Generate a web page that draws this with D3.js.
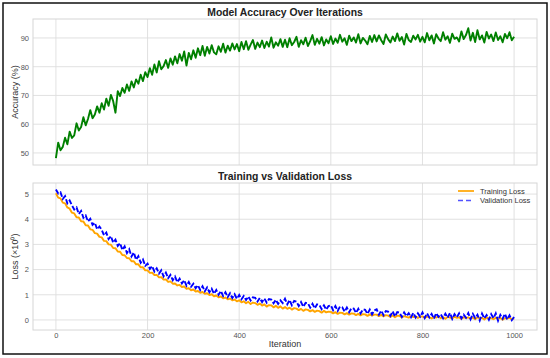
<!DOCTYPE html>
<html>
<head>
<meta charset="utf-8">
<script src="https://cdn.jsdelivr.net/npm/d3@7/dist/d3.min.js"></script>
<style>
  html, body { margin: 0; padding: 0; background: #fff; }
  svg { display: block; font-family: "Liberation Sans", Arial, sans-serif; }
</style>
</head>
<body>
<svg id="chart" width="550" height="358"></svg>
<script>
const STEP = 5;
const xTicks = [0, 200, 400, 600, 800, 1000];
const accTicks = [50, 60, 70, 80, 90];
const lossTicks = [0, 1, 2, 3, 4, 5];

const accuracy = [
  48.2, 53.6, 50.9, 52.1, 55.3, 53.0, 57.4, 55.2, 56.1, 60.3, 57.8, 59.0, 62.4, 59.6, 61.8, 64.9, 62.1, 63.4, 66.2, 64.0,
  67.3, 65.1, 68.9, 66.4, 70.2, 68.0, 64.0, 71.5, 69.8, 72.6, 70.9, 73.8, 71.6, 74.9, 72.8, 75.6, 74.1, 77.2, 75.0, 78.1,
  76.4, 79.5, 77.2, 80.8, 78.0, 81.9, 79.1, 80.2, 82.3, 79.6, 82.9, 80.7, 83.6, 81.2, 84.4, 82.1, 85.3, 80.4, 84.8, 82.6,
  85.7, 83.1, 86.4, 84.0, 87.2, 83.8, 86.9, 84.6, 87.5, 85.0, 84.3, 87.1, 85.2, 88.0, 84.9, 87.3, 85.6, 88.1, 86.0, 87.9,
  85.4, 88.6, 86.1, 88.9, 85.9, 87.7, 89.3, 86.2, 88.4, 86.8, 89.1, 86.5, 88.7, 87.0, 90.2, 86.6, 88.5, 87.3, 89.6, 86.9,
  89.4, 86.8, 89.9, 87.5, 88.6, 90.4, 86.9, 89.2, 87.8, 90.1, 87.2, 88.9, 91.0, 87.6, 89.7, 88.0, 90.3, 87.4, 89.5, 88.2,
  90.6, 87.9, 89.8, 88.3, 91.1, 88.7, 89.9, 87.6, 90.8, 88.9, 90.2, 88.4, 91.3, 88.1, 90.0, 89.1, 87.8, 90.7, 88.6, 91.0,
  88.8, 90.9, 89.2, 87.9, 91.2, 89.6, 88.4, 90.5, 88.9, 91.6, 89.0, 90.3, 87.7, 91.4, 89.3, 88.6, 90.8, 89.5, 91.1, 88.7,
  90.4, 88.5, 91.7, 89.2, 90.9, 88.1, 91.3, 89.8, 88.9, 92.0, 89.4, 90.6, 88.3, 91.5, 89.7, 90.2, 88.8, 92.3, 89.6, 91.0,
  93.4, 89.1, 91.8, 88.6, 92.7, 89.5, 90.9, 88.4, 92.1, 89.8, 91.2, 88.9, 91.9, 89.3, 90.6, 88.5, 91.4, 89.9, 92.0, 89.2,
  90.4
];

const trainLoss = [
  5.03, 4.86, 4.83, 4.66, 4.63, 4.47, 4.42, 4.26, 4.23, 4.08, 4.07, 3.92, 3.91, 3.76, 3.75, 3.60, 3.58, 3.45, 3.43, 3.30,
  3.28, 3.14, 3.13, 3.00, 2.99, 2.86, 2.85, 2.72, 2.71, 2.58, 2.57, 2.46, 2.45, 2.33, 2.33, 2.21, 2.21, 2.09, 2.09, 1.97,
  1.97, 1.87, 1.88, 1.78, 1.79, 1.69, 1.70, 1.60, 1.61, 1.51, 1.53, 1.44, 1.45, 1.37, 1.39, 1.31, 1.33, 1.24, 1.26, 1.18,
  1.21, 1.13, 1.15, 1.08, 1.11, 1.04, 1.06, 0.99, 1.02, 0.94, 0.97, 0.90, 0.93, 0.86, 0.89, 0.82, 0.85, 0.78, 0.81, 0.74,
  0.78, 0.70, 0.74, 0.66, 0.72, 0.63, 0.69, 0.67, 0.60, 0.65, 0.57, 0.62, 0.53, 0.59, 0.58, 0.50, 0.56, 0.48, 0.54, 0.45,
  0.51, 0.44, 0.49, 0.41, 0.47, 0.45, 0.39, 0.44, 0.36, 0.42, 0.40, 0.34, 0.39, 0.32, 0.37, 0.35, 0.29, 0.36, 0.30, 0.33,
  0.32, 0.26, 0.31, 0.24, 0.29, 0.28, 0.22, 0.27, 0.21, 0.26, 0.25, 0.19, 0.24, 0.18, 0.23, 0.22, 0.16, 0.22, 0.17, 0.21,
  0.21, 0.15, 0.20, 0.14, 0.19, 0.17, 0.12, 0.18, 0.11, 0.17, 0.16, 0.10, 0.15, 0.12, 0.09, 0.16, 0.11, 0.14, 0.08, 0.13,
  0.14, 0.08, 0.13, 0.10, 0.06, 0.12, 0.09, 0.14, 0.07, 0.11, 0.05, 0.12, 0.09, 0.06, 0.13, 0.08, 0.10, 0.04, 0.11, 0.07,
  0.10, 0.05, 0.09, 0.03, 0.11, 0.06, 0.08, 0.02, 0.10, 0.05, 0.07, 0.03, 0.09, 0.04, 0.08, 0.01, 0.07, 0.05, 0.09, 0.03,
  0.06
];

const valLoss = [
  5.18, 5.02, 5.07, 4.81, 4.92, 4.63, 4.74, 4.55, 4.39, 4.47, 4.21, 4.33, 4.06, 4.15, 3.91, 4.02, 3.78, 3.86, 3.60, 3.71,
  3.58, 3.36, 3.47, 3.21, 3.33, 3.07, 3.19, 2.94, 3.05, 2.78, 2.92, 2.66, 2.81, 2.52, 2.68, 2.39, 2.53, 2.27, 2.40, 2.15,
  2.24, 2.03, 2.14, 1.92, 2.05, 1.84, 1.97, 1.73, 1.88, 1.66, 1.79, 1.58, 1.72, 1.50, 1.64, 1.45, 1.58, 1.36, 1.51, 1.32,
  1.44, 1.26, 1.38, 1.19, 1.34, 1.14, 1.29, 1.10, 1.24, 1.04, 1.19, 1.00, 1.15, 0.95, 1.10, 0.91, 1.06, 0.87, 1.02, 0.84,
  0.99, 0.82, 0.95, 0.79, 0.93, 0.77, 0.90, 0.88, 0.73, 0.87, 0.71, 0.85, 0.69, 0.83, 0.81, 0.66, 0.80, 0.64, 0.78, 0.67,
  0.84, 0.62, 0.79, 0.58, 0.76, 0.73, 0.55, 0.71, 0.52, 0.68, 0.66, 0.49, 0.64, 0.46, 0.62, 0.59, 0.43, 0.58, 0.41, 0.55,
  0.58, 0.39, 0.55, 0.36, 0.53, 0.50, 0.33, 0.49, 0.31, 0.47, 0.45, 0.28, 0.44, 0.26, 0.42, 0.40, 0.24, 0.41, 0.22, 0.38,
  0.42, 0.21, 0.37, 0.19, 0.35, 0.33, 0.16, 0.34, 0.14, 0.31, 0.29, 0.12, 0.30, 0.15, 0.27, 0.11, 0.28, 0.10, 0.26, 0.13,
  0.30, 0.08, 0.26, 0.10, 0.24, 0.05, 0.27, 0.12, 0.22, 0.07, 0.25, 0.09, 0.28, 0.04, 0.23, 0.11, 0.26, 0.06, 0.21, 0.09,
  0.27, 0.03, 0.24, 0.08, 0.21, -0.02, 0.25, 0.06, 0.19, 0.01, 0.23, 0.07, 0.26, -0.03, 0.20, 0.05, 0.24, 0.02, 0.18, -0.01,
  0.12
];

const FONT = '"Liberation Sans", Arial, sans-serif';
const svg = d3.select("#chart");

svg.append("rect").attr("width", 550).attr("height", 358).attr("fill", "#fff");
svg.append("rect")
  .attr("x", 3).attr("y", 3).attr("width", 544).attr("height", 351)
  .attr("fill", "none").attr("stroke", "#111").attr("stroke-width", 1.5);

const x = d3.scaleLinear().domain([-50, 1050]).range([33, 537]);

function panel(y0, y1, yDomain, yTicks, title, ylabel, showX) {
  const y = d3.scaleLinear().domain(yDomain).range([y1, y0]);
  const g = svg.append("g");

  // grid
  g.append("g").selectAll("line").data(xTicks).join("line")
    .attr("x1", (d) => x(d)).attr("x2", (d) => x(d))
    .attr("y1", y0).attr("y2", y1)
    .attr("stroke", "#dedede").attr("stroke-width", 0.9);
  g.append("g").selectAll("line").data(yTicks).join("line")
    .attr("x1", 33).attr("x2", 537)
    .attr("y1", (d) => y(d)).attr("y2", (d) => y(d))
    .attr("stroke", "#dedede").attr("stroke-width", 0.9);
  g.append("rect")
    .attr("x", 33).attr("y", y0).attr("width", 504).attr("height", y1 - y0)
    .attr("fill", "none").attr("stroke", "#d6d6d6").attr("stroke-width", 1);

  // tick labels
  const yAxis = g.append("g").attr("transform", "translate(33,0)")
    .call(d3.axisLeft(y).tickValues(yTicks).tickFormat((d) => String(d)).tickSize(0).tickPadding(4));
  yAxis.select(".domain").remove();
  yAxis.selectAll("text").attr("fill", "#555").style("font", `7.5px ${FONT}`);

  if (showX) {
    const xAxis = g.append("g").attr("transform", `translate(0,${y1})`)
      .call(d3.axisBottom(x).tickValues(xTicks).tickFormat((d) => String(d)).tickSize(0).tickPadding(3));
    xAxis.select(".domain").remove();
    xAxis.selectAll("text").attr("fill", "#555").style("font", `7.5px ${FONT}`);
    g.append("text")
      .attr("x", 285).attr("y", 347)
      .attr("text-anchor", "middle").attr("fill", "#333")
      .style("font", `9px ${FONT}`).text("Iteration");
  }

  g.append("text")
    .attr("x", 285).attr("y", y0 - 3)
    .attr("text-anchor", "middle").attr("fill", "#222")
    .style("font", `bold 10.4px ${FONT}`).text(title);

  g.append("text")
    .attr("transform", `translate(18,${(y0 + y1) / 2}) rotate(-90)`)
    .attr("text-anchor", "middle").attr("fill", "#333")
    .style("font", `9px ${FONT}`).text(ylabel);

  return { g, y };
}

const accPanel = panel(19, 165, [45.8, 96.6], accTicks, "Model Accuracy Over Iterations", "Accuracy (%)", false);
accPanel.g.append("path")
  .datum(accuracy)
  .attr("fill", "none").attr("stroke", "#008000").attr("stroke-width", 1.9)
  .attr("stroke-linejoin", "round")
  .attr("d", d3.line().x((d, i) => x(i * STEP)).y((d) => accPanel.y(d)));

const lossPanel = panel(183, 330, [-0.40, 5.44], lossTicks, "Training vs Validation Loss", "Loss (×10⁰)", true);
lossPanel.g.append("path")
  .datum(trainLoss)
  .attr("fill", "none").attr("stroke", "#ffa500").attr("stroke-width", 1.9)
  .attr("stroke-linejoin", "round")
  .attr("d", d3.line().x((d, i) => x(i * STEP)).y((d) => lossPanel.y(d)));
lossPanel.g.append("path")
  .datum(valLoss)
  .attr("fill", "none").attr("stroke", "#0000ff").attr("stroke-width", 1.9)
  .attr("stroke-dasharray", "5,2")
  .attr("d", d3.line().x((d, i) => x(i * STEP)).y((d) => lossPanel.y(d)));

// legend
const legend = lossPanel.g.append("g").attr("transform", "translate(458,191)");
const entries = [
  { label: "Training Loss", color: "#ffa500", dash: null, opacity: 1 },
  { label: "Validation Loss", color: "#3333ff", dash: "5,3", opacity: 0.85 },
];
entries.forEach((e, i) => {
  const row = legend.append("g").attr("transform", `translate(0,${i * 9.5})`);
  row.append("line")
    .attr("x1", 0).attr("x2", 16).attr("y1", 0).attr("y2", 0)
    .attr("stroke", e.color).attr("stroke-width", 1.7)
    .attr("stroke-dasharray", e.dash).attr("opacity", e.opacity);
  row.append("text")
    .attr("x", 22).attr("y", 2.6).attr("fill", "#333")
    .style("font", `7.5px ${FONT}`).text(e.label);
});
</script>
</body>
</html>
